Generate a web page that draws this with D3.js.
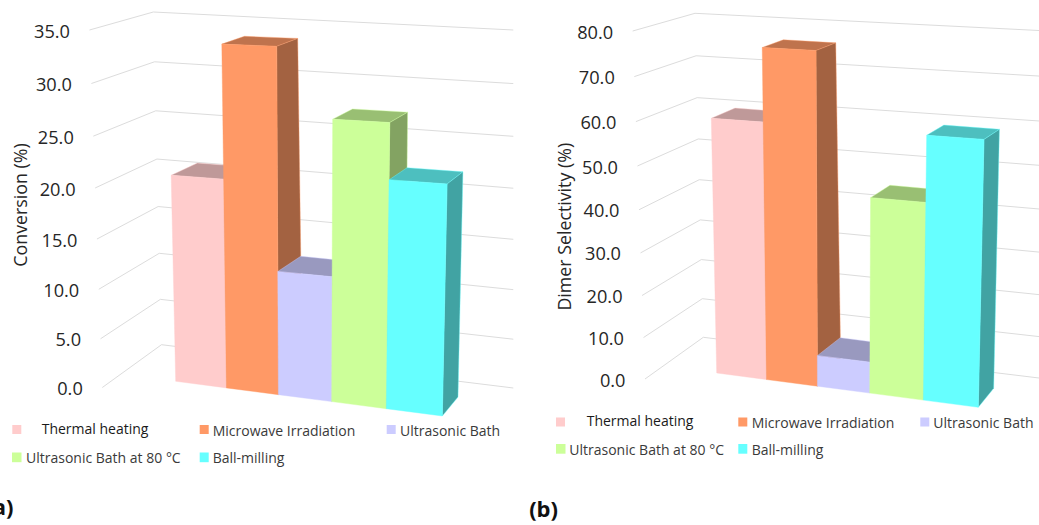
<!DOCTYPE html>
<html><head><meta charset="utf-8">
<script src="https://cdn.jsdelivr.net/npm/d3@7"></script>
<style>html,body{margin:0;padding:0;background:#fff}svg{display:block}text{font-family:"Open Sans",sans-serif}</style>
</head><body><svg id="c" width="1039" height="525"></svg>
<script>
const categories = ["Thermal heating","Microwave Irradiation","Ultrasonic Bath","Ultrasonic Bath at 80 °C","Ball-milling"];
const colours = ["#FFCCCC","#FF9966","#CCCCFF","#CCFF99","#66FFFF"];
const conversionValues = [21.0,33.9,12.4,27.4,22.1];
const selectivityValues = [60.0,76.5,7.3,45.0,59.7];
const conversionTicks = [0,5,10,15,20,25,30,35];
const selectivityTicks = [0,10,20,30,40,50,60,70,80];

const panelA = {
  values: conversionValues, ticks: conversionTicks, title:"Conversion (%)", titleAt:[20.5,205], letter:"(a)", letterEnd:13.5, letterY:515,
  wall:{fl0:[102.3,387.5],fl1:[89.5,30],bl0:[161.5,344.7],bl1:[153.3,12],r0:[513.3,388],r1:[513.3,30]},
  box:{f00:[175.7,381.3],f10:[442.3,416],f01:[168,30.3],f11:[450,41],b00:[205,362],b10:[458,397],b01:[192,23],b11:[466,33]},
  legend:[[12.3,425,41.7,428.5],[199.7,425,212.7,431],[386.7,425,400,431],[12,452.5,26,458],[199.7,452.5,212.7,458]]
};
const panelB = {
  values: selectivityValues, ticks: selectivityTicks, title:"Dimer Selectivity (%)", titleAt:[565,226.7], letter:"(b)", letterEnd:558, letterY:517,
  wall:{fl0:[645,379],fl1:[632.7,31],bl0:[703.3,337.3],bl1:[695,13.3],r0:[1039,378],r1:[1039,30.5]},
  box:{f00:[716.7,373],f10:[978.3,407.3],f01:[709.4,28.7],f11:[986,43.3],b00:[745,354],b10:[993.7,388.3],b01:[731.5,21.5],b11:[1001.5,36.3]},
  legend:[[556,417.5,586.7,421],[738.3,417.5,751.7,423],[920.3,417.5,933.3,423],[556,444,569.3,449.5],[738.3,444,751.7,449.5]]
};

const svg = d3.select("#c");
// projective foreshortening along an axis: keeps 0 and 1 fixed
const warp = (t,C)=> t*(1+C)/(1+C*t);
const mix = (a,b,t)=>[a[0]+(b[0]-a[0])*t, a[1]+(b[1]-a[1])*t];
const line = d3.line();
const fmt = d3.format(".1f");

function drawPanel(p){
  const g = svg.append("g");
  const yS = d3.scaleLinear().domain(d3.extent(p.ticks)).range([0,1]);
  const h = v => warp(yS(v),-0.053);
  const xS = d3.scaleBand().domain(categories).range([0,1]).padding(0);
  const uw = u => warp(u,-0.06);
  const W = p.wall, B = p.box;
  const P = (u,s,w)=>{
    const front = mix(mix(B.f00,B.f10,u),mix(B.f01,B.f11,u),s);
    const back  = mix(mix(B.b00,B.b10,u),mix(B.b01,B.b11,u),s);
    return mix(front,back,w);
  };
  // gridlines
  g.append("g").selectAll("path").data(p.ticks).join("path")
    .attr("d",v=>line([mix(W.fl0,W.fl1,h(v)),mix(W.bl0,W.bl1,h(v)),mix(W.r0,W.r1,h(v))]))
    .attr("fill","none").attr("stroke","#dcdcdc").attr("stroke-width",1);
  // tick labels
  g.append("g").selectAll("text").data(p.ticks).join("text")
    .attr("x",v=>mix(W.fl0,W.fl1,h(v))[0]-19.5)
    .attr("y",v=>mix(W.fl0,W.fl1,h(v))[1]+1)
    .attr("dy","0.36em").attr("text-anchor","end").attr("font-size",18.2).attr("fill","#262626")
    .text(fmt);
  // axis title
  g.append("text").attr("transform",`translate(${p.titleAt[0]},${p.titleAt[1]}) rotate(-90)`)
    .attr("dy","0.36em").attr("text-anchor","middle").attr("font-size",17.8).attr("fill","#262626").text(p.title);
  // bars, left to right so each front covers its neighbour's top
  const bars = categories.map((c,i)=>({c,v:p.values[i],col:colours[i]}));
  const bg = g.append("g").selectAll("g").data(bars).join("g");
  const faces = [
    {fill:c=>d3.rgb(c.r*.75,c.g*.75,c.b*.75), pts:(a,b,s)=>[P(a,s,0),P(b,s,0),P(b,s,1),P(a,s,1)]},
    {fill:c=>d3.rgb(c.r*.64,c.g*.64,c.b*.64), pts:(a,b,s)=>[P(b,0,0),P(b,s,0),P(b,s,1),P(b,0,1)]},
    {fill:c=>c, pts:(a,b,s)=>[P(a,0,0),P(b,0,0),P(b,s,0),P(a,s,0)]}
  ];
  bg.each(function(d){
    const a = uw(xS(d.c)), b = uw(xS(d.c)+xS.bandwidth()), s = h(d.v);
    const col = d3.rgb(d.col);
    d3.select(this).selectAll("path").data(faces).join("path")
      .attr("d",f=>line(f.pts(a,b,s))+"Z")
      .attr("fill",f=>f.fill(col))
      .attr("stroke",d.col).attr("stroke-width",0.4).attr("stroke-linejoin","round");
  });
  // legend
  const lg = g.append("g").selectAll("g").data(bars).join("g");
  lg.append("rect").attr("x",(d,i)=>p.legend[i][0]).attr("y",(d,i)=>p.legend[i][1])
    .attr("width",(d,i)=>i==3?9.5:9).attr("height",(d,i)=>i>2?9.7:9).attr("fill",d=>d.col);
  lg.append("text").attr("x",(d,i)=>p.legend[i][2]).attr("y",(d,i)=>p.legend[i][3])
    .attr("dy","0.36em").attr("font-size",14).attr("fill",(d,i)=>i==0?"#1a1a1a":"#3a3a3a").text(d=>d.c);
  // panel letter
  g.append("text").attr("x",p.letterEnd).attr("y",p.letterY).attr("text-anchor","end")
    .attr("font-size",22).attr("font-weight",700).attr("fill","#111").text(p.letter);
}
drawPanel(panelA);
drawPanel(panelB);
</script></body></html>
